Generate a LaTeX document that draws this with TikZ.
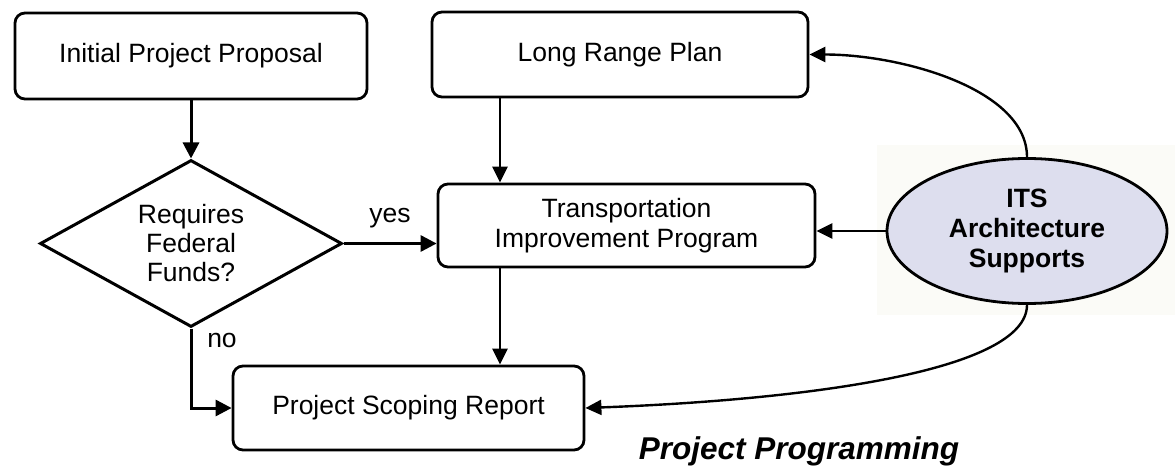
\documentclass[tikz,border=0pt]{standalone}
\usepackage{fontspec}
\setmainfont{Liberation Sans}
\usetikzlibrary{shapes.geometric,arrows.meta}
\definecolor{ellfill}{RGB}{221,222,238}
\definecolor{haze}{RGB}{251,251,247}
\tikzset{
  box/.style={draw, line width=2.8pt, rounded corners=10pt, inner sep=0pt, align=center,
    font=\fontsize{26.5}{30}\selectfont},
  decision/.style={draw, diamond, line width=3pt, inner sep=0pt, align=center,
    font=\fontsize{26.5}{29}\selectfont, shape aspect=1.8},
  support/.style={draw, ellipse, line width=2.8pt, fill=ellfill, inner sep=0pt, align=center,
    font=\fontsize{26.5}{30}\selectfont\bfseries},
  arr/.style={line width=2.4pt, -{Triangle[length=16pt,width=15pt]}},
  arrb/.style={line width=3pt, -{Triangle[length=16pt,width=16pt]}},
  lbl/.style={font=\fontsize{26.5}{30}\selectfont, inner sep=0pt},
  ttl/.style={font=\fontsize{31.5}{36}\selectfont\bfseries\itshape, inner sep=0pt}
}
\begin{document}
\begin{tikzpicture}[x=1pt,y=-1pt]
\useasboundingbox (0,0) rectangle (1175,468);
\fill[haze] (877,145) rectangle (1175,315);
\node[box, minimum width=352pt, minimum height=86pt] (init) at (191,56) {Initial Project Proposal};
\node[box, minimum width=376pt, minimum height=85pt] (lrp) at (620,54.5) {Long Range Plan};
\node[box, minimum width=377pt, minimum height=83pt] (tip) at (626.5,225.5) {Transportation\\Improvement Program};
\node[box, minimum width=351pt, minimum height=84pt] (scop) at (408.5,408) {Project Scoping Report};
\node[decision, minimum width=302pt, minimum height=167pt] (dec) at (191,243.5) {Requires\\Federal\\Funds?};
\node[support, minimum width=280pt, minimum height=145pt] (its) at (1027,231) {ITS\\Architecture\\Supports};
\coordinate (cx) at (500,0);
\node[lbl] (yes) at (390,218) {yes};
\node[lbl] (no) at (222,340) {no};
\node[ttl] (title) at (799,451) {Project Programming};
\draw[arrb] (init.south) -- (dec.north);
\draw[arrb] (dec.east) -- (dec.east -| tip.west);
\draw[arrb] (dec.south) |- (scop.west);
\draw[arr] (lrp.south -| cx) -- (tip.north -| cx);
\draw[arr] (tip.south -| cx) -- (scop.north -| cx);
\draw[arr] (its.west) -- (its.west -| tip.east);
\draw[arr] (its.north) .. controls +(0,-68) and +(92,0) .. (lrp.east);
\draw[arr] (its.south) .. controls +(0,67) and +(216,-8) .. (scop.east);
\end{tikzpicture}
\end{document}
